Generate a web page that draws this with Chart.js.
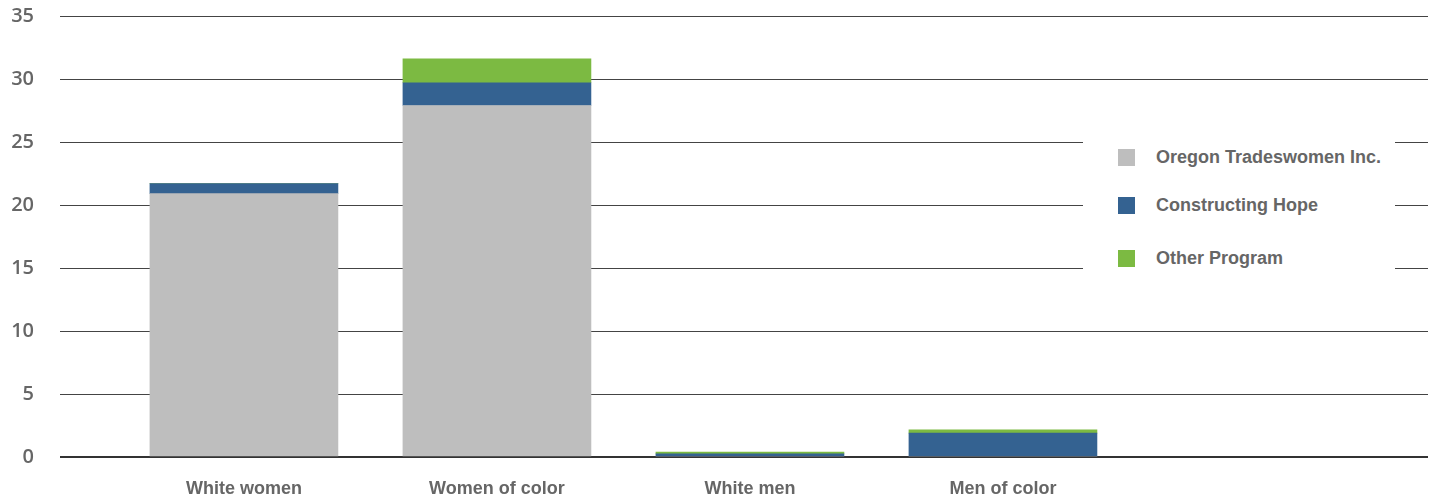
<!DOCTYPE html>
<html>
<head>
<meta charset="utf-8">
<script src="https://cdn.jsdelivr.net/npm/chart.js@4/dist/chart.umd.min.js"></script>
<style>
  html, body { margin: 0; padding: 0; background: #fff; }
  #wrap { position: relative; width: 1434px; height: 500px; }
  #legend {
    position: absolute; left: 1083px; top: 130px; width: 312px; height: 150px;
    background: #fff; font-family: "Liberation Sans", Arial, sans-serif;
    font-weight: bold; font-size: 18px; color: #666;
  }
  .item { position: absolute; left: 35px; height: 17px; }
  .item span.box { position: absolute; left: 0; top: 0; width: 17px; height: 17px; }
  .item span.lbl { position: absolute; left: 38px; top: -5px; white-space: nowrap; line-height: 27px; }
</style>
</head>
<body>
<div id="wrap">
  <canvas id="chart" width="1434" height="500"></canvas>
  <div id="legend"></div>
</div>
<script>
const categories = ['White women', 'Women of color', 'White men', 'Men of color']
const oregonTradeswomen = [20.9, 27.9, 0, 0]
const constructingHope = [0.8, 1.8, 0.25, 1.9]
const otherProgram = [0, 1.9, 0.15, 0.25]
const yTicks = [0, 5, 10, 15, 20, 25, 30, 35]

const colors = { oti: '#bebebe', ch: '#346291', other: '#7cba42' }

const toPoints = (arr) => arr.map((v, i) => ({ x: i, y: v }))

const datasets = [
  { label: 'Oregon Tradeswomen Inc.', data: toPoints(oregonTradeswomen), backgroundColor: colors.oti },
  { label: 'Constructing Hope', data: toPoints(constructingHope), backgroundColor: colors.ch },
  { label: 'Other Program', data: toPoints(otherProgram), backgroundColor: colors.other }
].map(d => Object.assign(d, { barThickness: 188, borderWidth: 0 }))

// legend sits on a white box over the grid, like the original
const legendEl = document.getElementById('legend')
const legendTops = [19, 67, 120]
datasets.forEach((d, i) => {
  let item = document.createElement('div')
  item.className = 'item'
  item.style.top = legendTops[i] + 'px'
  item.innerHTML = '<span class="box" style="background:' + d.backgroundColor + '"></span><span class="lbl">' + d.label + '</span>'
  legendEl.appendChild(item)
})

new Chart(document.getElementById('chart'), {
  type: 'bar',
  data: { datasets: datasets },
  options: {
    responsive: false,
    animation: false,
    layout: { padding: { left: 0, right: 6, top: 16, bottom: 0 } },
    plugins: { legend: { display: false }, tooltip: { enabled: false } },
    scales: {
      x: {
        type: 'linear',
        stacked: true,
        offset: false,
        bounds: 'data',
        min: -0.727,
        max: 4.68,
        grid: { display: false, drawTicks: false, offset: false },
        border: { display: false },
        afterBuildTicks: (scale) => { scale.ticks = categories.map((c, i) => ({ value: i })) },
        afterFit: (scale) => {
          scale.height = 43
          scale.paddingLeft = 0
          scale.paddingRight = 0
        },
        ticks: {
          autoSkip: false,
          maxRotation: 0,
          padding: 21,
          color: '#666',
          font: { family: '"Liberation Sans", Arial, sans-serif', size: 18, weight: 'bold' },
          callback: (v) => categories[v] || ''
        }
      },
      y: {
        stacked: true,
        min: 0,
        max: 35,
        afterBuildTicks: (scale) => { scale.ticks = yTicks.map(v => ({ value: v })) },
        afterFit: (scale) => {
          scale.width = 60
          scale.paddingTop = 0
          scale.paddingBottom = 0
        },
        grid: {
          drawTicks: false,
          color: (ctx) => ctx.tick && ctx.tick.value === 0 ? '#333' : '#444',
          lineWidth: (ctx) => ctx.tick && ctx.tick.value === 0 ? 2 : 1
        },
        border: { display: false },
        ticks: {
          padding: 26,
          color: '#666',
          font: { family: '"Open Sans", sans-serif', size: 20, weight: 600 }
        }
      }
    }
  }
})
</script>
</body>
</html>
